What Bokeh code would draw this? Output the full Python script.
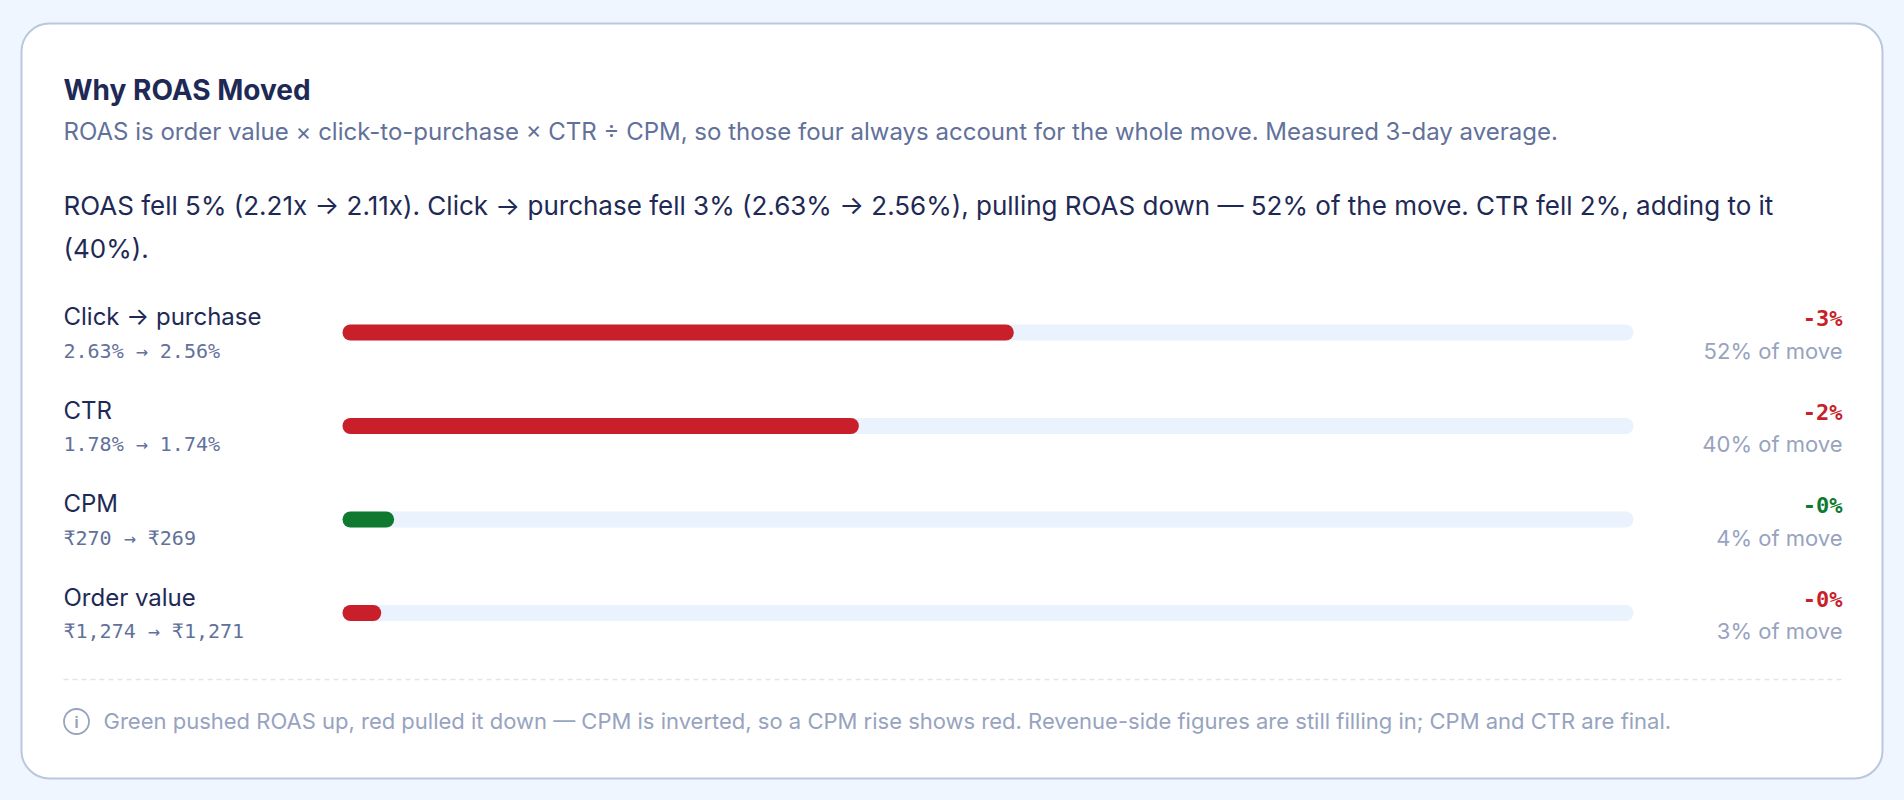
from bokeh.plotting import figure
from bokeh.models import ColumnDataSource, Range1d, GlobalInlineStyleSheet
from bokeh.core.properties import value
from bokeh.embed import file_html
from bokeh.resources import INLINE

# --- data -------------------------------------------------------------
drivers = ["Click → purchase", "CTR", "CPM", "Order value"]
before = [2.63, 1.78, 270, 1274]
after = [2.56, 1.74, 269, 1271]
units = ["pct", "pct", "inr", "inr"]
share_of_move = [52, 40, 4, 3]          # % of the ROAS move
pushed = ["down", "down", "up", "down"]  # effect on ROAS

roas_before, roas_after = 2.21, 2.11

TITLE = "Why ROAS Moved"
SUBTITLE = ("ROAS is order value × click-to-purchase × CTR ÷ CPM, so those four always "
            "account for the whole move. Measured 3-day average.")
SUMMARY = [
    "ROAS fell 5% (2.21x → 2.11x). Click → purchase fell 3% (2.63% → 2.56%), pulling ROAS down — "
    "52% of the move. CTR fell 2%, adding to it",
    "(40%).",
]
FOOTNOTE = ("Green pushed ROAS up, red pulled it down — CPM is inverted, so a CPM rise shows red. "
            "Revenue-side figures are still filling in; CPM and CTR are final.")

# --- style ------------------------------------------------------------
PAGE_BG = "#eff6ff"
CARD_LINE = "#b9c7df"
INK = "#1e2a55"
MUTED = "#62719a"
FAINT = "#97a3bf"
TRACK = "#eaf2fd"
RED = "#c81f2a"
GREEN = "#0f7a2f"
SANS = value("Inter")
MONO = value("DejaVu Sans Mono")

W, H = 1888, 784
LEFT, RIGHT = 63, 1842
TRACK_L, TRACK_R = 342, 1633
ROW0, ROW_STEP = 332, 93.5
DS, DM = -8, -6   # baseline nudges for sans / mono text


def fmt(v, unit):
    if unit == "pct":
        return f"{v:.2f}%"
    return f"₹{v:,.0f}"


rows = list(range(len(drivers)))
row_y = [ROW0 + i * ROW_STEP for i in rows]
change = [(a / b - 1) * 100 for a, b in zip(after, before)]
colors = [GREEN if d == "up" else RED for d in pushed]

src = ColumnDataSource(data=dict(
    y=row_y,
    label=drivers,
    label_y=[y - 8 + DS for y in row_y],
    change_y=[y - 8 + DM for y in row_y],
    sub=[f"{fmt(b, u)} → {fmt(a, u)}" for b, a, u in zip(before, after, units)],
    sub_y=[y + 24 + DM for y in row_y],
    share=share_of_move,
    share_txt=[f"{s}% of move" for s in share_of_move],
    share_y=[y + 26 + DS for y in row_y],
    change_txt=[f"{c:.0f}%" for c in change],
    color=colors,
    full=[100] * len(rows),
    zero=[0] * len(rows),
))

# page-pixel coordinates (y grows downwards); the template puts the plot at 0,0
p = figure(width=W, height=H, x_range=Range1d(0, W), y_range=Range1d(H, 0),
           output_backend="svg", toolbar_location=None, x_axis_type=None, y_axis_type=None,
           min_border=0, background_fill_color=PAGE_BG, border_fill_color=PAGE_BG)
p.outline_line_color = None
p.grid.visible = False
p.stylesheets = [GlobalInlineStyleSheet(css=f"body {{ background: {PAGE_BG}; }}")]

# share scale: 0..100 spans the bar track
span = 100 * W / (TRACK_R - TRACK_L)
s0 = -TRACK_L / W * span
p.extra_x_ranges = {"share": Range1d(s0, s0 + span)}

# card
p.quad(left=21, right=1882, top=23, bottom=778, fill_color="white",
       line_color=CARD_LINE, line_width=2, border_radius=28)

# heading
p.text(x=LEFT, y=97 + DS, text=[TITLE], text_font=SANS, text_font_size="28px",
       text_font_style="bold", text_color=INK, text_baseline="alphabetic")
p.text(x=LEFT, y=139 + DS, text=[SUBTITLE], text_font=SANS, text_font_size="24px",
       text_color=MUTED, text_baseline="alphabetic")
p.text(x=LEFT, y=[213 + DS, 256 + DS], text=SUMMARY, text_font=SANS, text_font_size="26px",
       text_color=INK, text_baseline="alphabetic")

# rows
p.text(x=LEFT, y="label_y", text="label", source=src, text_font=SANS,
       text_font_size="24px", text_color=INK, text_baseline="alphabetic")
p.text(x=LEFT, y="sub_y", text="sub", source=src, text_font=MONO,
       text_font_size="20px", text_color=MUTED, text_baseline="alphabetic")

p.hbar(y="y", left="zero", right="full", height=16, source=src, x_range_name="share",
       fill_color=TRACK, line_color=None, border_radius=8)
p.hbar(y="y", left="zero", right="share", height=16, source=src, x_range_name="share",
       fill_color="color", line_color=None, border_radius=8)

p.text(x=RIGHT, y="change_y", text="change_txt", source=src, text_font=MONO,
       text_font_size="22px", text_font_style="bold", text_color="color",
       text_align="right", text_baseline="alphabetic")
p.text(x=RIGHT, y="share_y", text="share_txt", source=src, text_font=SANS,
       text_font_size="22px", text_color=FAINT, text_align="right",
       text_baseline="alphabetic")

# footer
p.segment(x0=LEFT, x1=RIGHT, y0=679, y1=679, line_color="#dfe5ef", line_width=1.5,
          line_dash="5 4")
p.scatter(x=[76], y=[721], size=25, marker="circle", fill_color=None,
          line_color=FAINT, line_width=1.8)
p.text(x=76, y=722, text=["i"], text_font=SANS, text_font_size="15px",
       text_font_style="bold", text_color=FAINT, text_align="center",
       text_baseline="middle")
p.text(x=103, y=728 + DS, text=[FOOTNOTE], text_font=SANS, text_font_size="22px",
       text_color=FAINT, text_baseline="alphabetic")

open("out.html", "w").write(file_html(p, INLINE))
